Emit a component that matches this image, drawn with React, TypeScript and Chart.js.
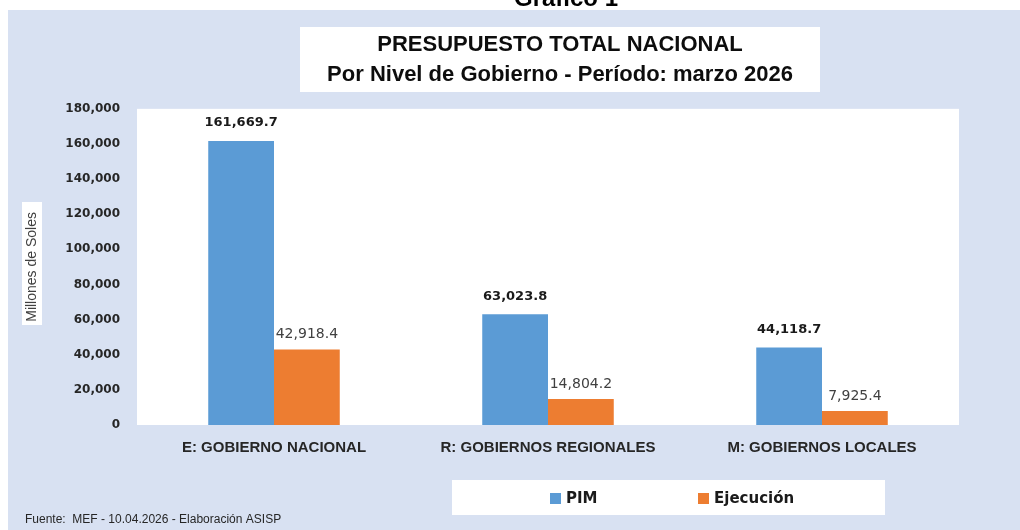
import React, { useEffect, useRef } from "react";
import { Chart, registerables } from "chart.js";

Chart.register(...registerables);

// ---- Data ----
const categories = ["E: GOBIERNO NACIONAL", "R: GOBIERNOS REGIONALES", "M: GOBIERNOS LOCALES"];
const seriesNames = ["PIM", "Ejecución"];
const pimValues = [161669.7, 63023.8, 44118.7];
const ejecucionValues = [42918.4, 14804.2, 7925.4];
const yMin = 0;
const yMax = 180000;
const yStep = 20000;
const titleLines = ["PRESUPUESTO TOTAL NACIONAL", "Por Nivel de Gobierno - Período: marzo 2026"];
const yAxisTitle = "Millones de Soles";
const figureLabel = "Gráfico 1";
const sourceNote = "Fuente:  MEF - 10.04.2026 - Elaboración ASISP";

// ---- Styles ----
const PIM_COLOR = "#5b9bd5";
const EJE_COLOR = "#ed7d31";
const BG_COLOR = "#d8e1f2";

const fmtTick = (v: number) => v.toLocaleString("en-US");
const fmtVal = (v: number) =>
  v.toLocaleString("en-US", { minimumFractionDigits: 1, maximumFractionDigits: 1 });

const decorPlugin = {
  id: "decor",
  afterLayout(chart: any) {
    const t = chart.titleBlock;
    if (t) {
      t.left = 300;
      t.right = 820;
      t.width = 520;
    }
  },
  beforeDraw(chart: any) {
    const ctx = chart.ctx;
    const a = chart.chartArea;
    ctx.save();
    ctx.fillStyle = "#ffffff";
    ctx.fillRect(0, 0, chart.width, chart.height);
    ctx.fillStyle = BG_COLOR;
    ctx.fillRect(8, 10, chart.width - 8, chart.height - 10);
    ctx.fillStyle = "#ffffff";
    // title box
    ctx.fillRect(300, 27, 520, 65);
    // plot area
    ctx.fillRect(a.left, a.top, a.right - a.left, a.bottom - a.top);
    // y-axis title box
    ctx.fillRect(22, 202, 20, 123);
    // legend box
    ctx.fillRect(452, 480, 433, 35);
    ctx.restore();
  },
  afterDatasetsDraw(chart: any) {
    const ctx = chart.ctx;
    ctx.save();
    ctx.textAlign = "center";
    ctx.textBaseline = "middle";
    chart.data.datasets.forEach((ds: any, i: number) => {
      const meta = chart.getDatasetMeta(i);
      if (i === 0) {
        ctx.font = 'bold 13px "DejaVu Sans", sans-serif';
        ctx.fillStyle = "#1a1a1a";
      } else {
        ctx.font = '14px "DejaVu Sans", sans-serif';
        ctx.fillStyle = "#404040";
      }
      const off = i === 0 ? 18 : 15;
      meta.data.forEach((el: any, j: number) => {
        ctx.fillText(fmtVal(ds.data[j]), el.x, el.y - off);
      });
    });
    ctx.restore();
  },
  afterDraw(chart: any) {
    const ctx = chart.ctx;
    ctx.save();
    // legend
    const itemX = [550, 698];
    ctx.textBaseline = "middle";
    ctx.textAlign = "left";
    ctx.font = 'bold 15px "DejaVu Sans", sans-serif';
    chart.data.datasets.forEach((ds: any, i: number) => {
      ctx.fillStyle = ds.backgroundColor;
      ctx.fillRect(itemX[i], 493, 11, 11);
      ctx.fillStyle = "#1a1a1a";
      ctx.fillText(ds.label, itemX[i] + 16, 499);
    });
    // source note
    ctx.font = '12px "Liberation Sans", Arial, sans-serif';
    ctx.fillStyle = "#262626";
    ctx.fillText(sourceNote, 25, 520);
    // figure label
    ctx.textAlign = "center";
    ctx.textBaseline = "alphabetic";
    ctx.font = 'bold 24px "Liberation Sans", Arial, sans-serif';
    ctx.fillStyle = "#000000";
    ctx.fillText(figureLabel, 566, 6);
    ctx.restore();
  },
};

export default function App() {
  const ref = useRef<HTMLCanvasElement | null>(null);

  useEffect(() => {
    if (!ref.current) return;
    const chart = new Chart(ref.current, {
      type: "bar",
      data: {
        labels: categories,
        datasets: [
          {
            label: seriesNames[0],
            data: pimValues,
            backgroundColor: PIM_COLOR,
            categoryPercentage: 0.48,
            barPercentage: 1.0,
          },
          {
            label: seriesNames[1],
            data: ejecucionValues,
            backgroundColor: EJE_COLOR,
            categoryPercentage: 0.48,
            barPercentage: 1.0,
          },
        ],
      },
      options: {
        responsive: false,
        animation: false,
        layout: { padding: { top: 10, left: 20, right: 61, bottom: 65 } },
        plugins: {
          legend: { display: false },
          tooltip: { enabled: false },
          title: {
            display: true,
            text: titleLines,
            color: "#0d0d0d",
            font: { family: '"Liberation Sans", Arial, sans-serif', size: 22, weight: "bold", lineHeight: 1.36 },
            padding: { top: 20, bottom: 19 },
          },
        },
        scales: {
          x: {
            grid: { display: false, drawTicks: false },
            border: { display: false },
            ticks: {
              padding: 14,
              color: "#262626",
              font: { family: '"Liberation Sans", Arial, sans-serif', size: 15, weight: "bold" },
            },
            afterFit: (s: any) => {
              s.height = 40;
            },
          },
          y: {
            min: yMin,
            max: yMax,
            grid: { display: false, drawTicks: false },
            border: { display: false },
            ticks: {
              stepSize: yStep,
              padding: 17,
              color: "#262626",
              font: { family: '"DejaVu Sans", sans-serif', size: 12, weight: "bold" },
              callback: (v: any) => fmtTick(Number(v)),
            },
            title: {
              display: true,
              text: yAxisTitle,
              color: "#404040",
              font: { family: '"Liberation Sans", Arial, sans-serif', size: 14 },
              padding: { top: 4, bottom: 4 },
            },
            afterFit: (s: any) => {
              s.width = 117;
            },
          },
        },
      },
      plugins: [decorPlugin],
    });
    return () => chart.destroy();
  }, []);

  return (
    <div style={{ position: "absolute", left: 0, top: 0, width: 1020, height: 530 }}>
      <canvas ref={ref} width={1020} height={530} style={{ width: 1020, height: 530, display: "block" }} />
    </div>
  );
}
